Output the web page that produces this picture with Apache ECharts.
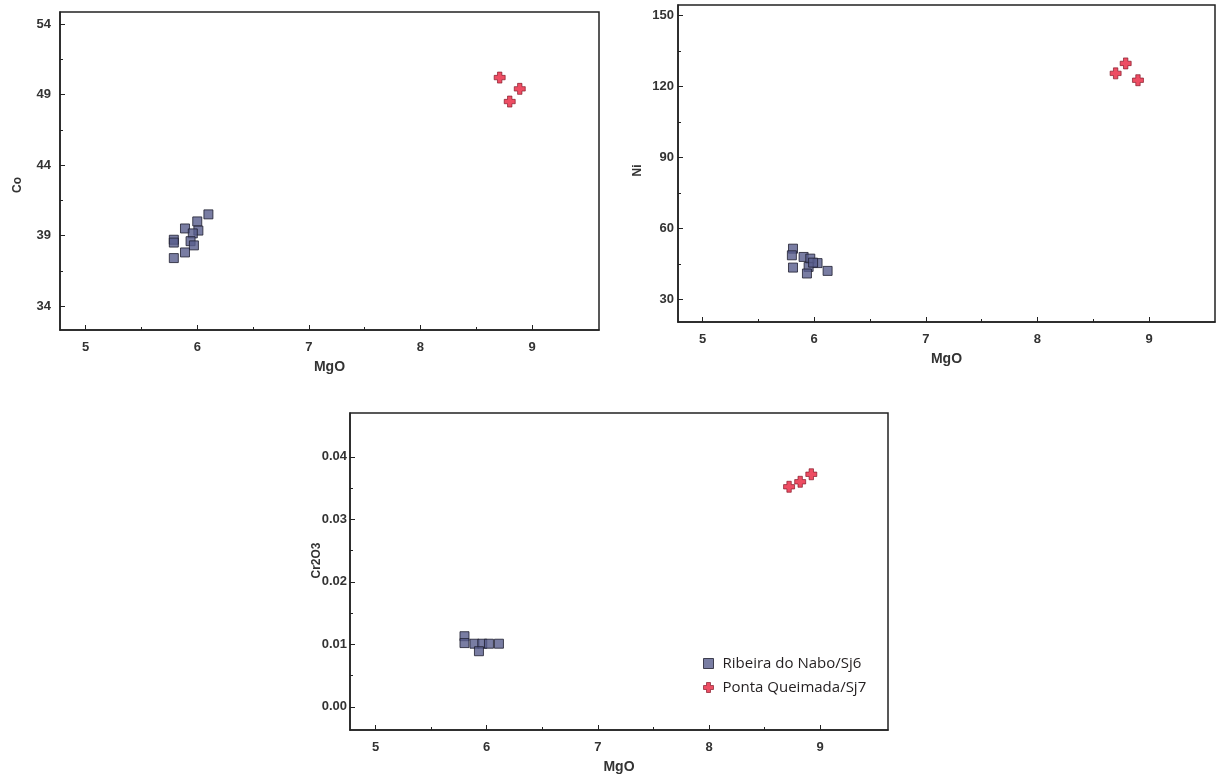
<!DOCTYPE html>
<html><head><meta charset="utf-8">
<script src="https://cdn.jsdelivr.net/npm/echarts@6/dist/echarts.min.js"></script>
<style>html,body{margin:0;padding:0;background:#fff}#c{width:1219px;height:776px}</style>
</head><body><div id="c"></div>
<script>
// ---- data ----
const seriesNames = ['Ribeira do Nabo/Sj6', 'Ponta Queimada/Sj7'];
const xTicks = [5, 6, 7, 8, 9];
const xMinorTicks = [5.5, 6.5, 7.5, 8.5];
const coTicks = [34, 39, 44, 49, 54];
const coMinorTicks = [36.5, 41.5, 46.5, 51.5];
const niTicks = [30, 60, 90, 120, 150];
const niMinorTicks = [45, 75, 105, 135];
const crTicks = [0, 0.01, 0.02, 0.03, 0.04];
const crMinorTicks = [0.005, 0.015, 0.025, 0.035];

// Co vs MgO
const coMgoBlue = [6.10, 6.00, 5.89, 6.01, 5.96, 5.79, 5.79, 5.94, 5.97, 5.89, 5.79];
const coBlue    = [40.5, 40.0, 39.5, 39.35, 39.15, 38.7, 38.5, 38.6, 38.3, 37.8, 37.4];
const coMgoRed  = [8.71, 8.89, 8.80];
const coRed     = [50.2, 49.4, 48.5];
// Ni vs MgO
const niMgoBlue = [5.81, 5.80, 5.905, 5.965, 6.03, 5.81, 5.95, 5.935, 6.12, 5.99];
const niBlue    = [51.4, 48.6, 47.9, 47.2, 45.3, 43.4, 43.7, 40.9, 42.0, 45.5];
const niMgoRed  = [8.70, 8.79, 8.90];
const niRed     = [125.5, 129.7, 122.6];
// Cr2O3 vs MgO
const crMgoBlue = [5.80, 5.80, 5.89, 5.96, 6.02, 6.11, 5.93];
const crBlue    = [0.0113, 0.0102, 0.0101, 0.0101, 0.0101, 0.0101, 0.0089];
const crMgoRed  = [8.72, 8.82, 8.92];
const crRed     = [0.0352, 0.0360, 0.0372];

// ---- styles ----
const AX = '#222';
const labelFont = { fontFamily: 'Liberation Sans, Arial, sans-serif', fontWeight: 'bold', fontSize: 13, color: '#333' };
const crossPath = 'path://M3,0H7V3H10V7H7V10H3V7H0V3H3Z';
const blueStyle = { color: '#585c8c', borderColor: '#1e1e2e', borderWidth: 1 };
const redStyle = { color: '#e8203c', borderColor: '#7a1020', borderWidth: 0.8 };

function zip(xs, ys) { return xs.map((x, i) => [x, ys[i]]); }

const grids = [
  { left: 60, top: 12, width: 539, height: 318 },
  { left: 678, top: 5, width: 537, height: 317 },
  { left: 350, top: 413, width: 538, height: 317 }
].map(g => Object.assign(g, { show: true, borderColor: AX, borderWidth: 1.5, backgroundColor: 'transparent' }));

const xRanges = [[4.77, 9.60], [4.78, 9.59], [4.77, 9.61]];
const yRanges = [[32.3, 54.85], [20.4, 154.4], [-0.0037, 0.047]];
const yMajor = [coTicks, niTicks, crTicks];
const yMinor = [coMinorTicks, niMinorTicks, crMinorTicks];
const yNames = ['Co', 'Ni', 'Cr2O3'];
const yNameGaps = [36, 34, 27];
const yNamePads = [[0, 28, 0, 0], [0, 14, 0, 0], [0, 0, 0, 22]];
const yLabelMargins = [9, 4, 3];
const yFormat = [v => String(v), v => String(v), v => v.toFixed(2)];

const xAxis = [], yAxis = [];
for (let i = 0; i < 3; i++) {
  xAxis.push({
    type: 'value', gridIndex: i, position: 'bottom', min: xRanges[i][0], max: xRanges[i][1],
    name: 'MgO', nameLocation: 'middle', nameGap: 30, nameMoveOverlap: false,
    nameTextStyle: Object.assign({}, labelFont, { fontSize: 14 }),
    axisLine: { show: true, onZero: false, lineStyle: { color: AX, width: 1.5 } },
    axisTick: { show: true, inside: true, length: 5, customValues: xTicks, lineStyle: { color: AX } },
    axisLabel: { show: true, margin: 11, customValues: xTicks, ...labelFont },
    splitLine: { show: false }
  });
  xAxis.push({
    type: 'value', gridIndex: i, position: 'bottom', min: xRanges[i][0], max: xRanges[i][1],
    axisLine: { show: false, onZero: false },
    axisTick: { show: true, inside: true, length: 3, customValues: xMinorTicks, lineStyle: { color: AX } },
    axisLabel: { show: false }, splitLine: { show: false }
  });
  yAxis.push({
    type: 'value', gridIndex: i, position: 'left', min: yRanges[i][0], max: yRanges[i][1],
    name: yNames[i], nameLocation: 'middle', nameGap: yNameGaps[i], nameMoveOverlap: false,
    nameTextStyle: Object.assign({}, labelFont, { fontSize: 12, padding: yNamePads[i] }),
    axisLine: { show: true, onZero: false, lineStyle: { color: AX, width: 1.5 } },
    axisTick: { show: true, inside: true, length: 5, customValues: yMajor[i], lineStyle: { color: AX } },
    axisLabel: { show: true, margin: yLabelMargins[i], customValues: yMajor[i], formatter: yFormat[i], ...labelFont },
    splitLine: { show: false }
  });
  yAxis.push({
    type: 'value', gridIndex: i, position: 'left', min: yRanges[i][0], max: yRanges[i][1],
    axisLine: { show: false, onZero: false },
    axisTick: { show: true, inside: true, length: 3, customValues: yMinor[i], lineStyle: { color: AX } },
    axisLabel: { show: false }, splitLine: { show: false }
  });
}

const blueSets = [zip(coMgoBlue, coBlue), zip(niMgoBlue, niBlue), zip(crMgoBlue, crBlue)];
const redSets = [zip(coMgoRed, coRed), zip(niMgoRed, niRed), zip(crMgoRed, crRed)];
const series = [];
for (let i = 0; i < 3; i++) {
  series.push({
    name: seriesNames[0], type: 'scatter', xAxisIndex: 2 * i, yAxisIndex: 2 * i,
    symbol: 'rect', symbolSize: 9, itemStyle: blueStyle, data: blueSets[i], z: 3
  });
  series.push({
    name: seriesNames[1], type: 'scatter', xAxisIndex: 2 * i, yAxisIndex: 2 * i,
    symbol: crossPath, symbolSize: 11, itemStyle: redStyle, data: redSets[i], z: 4
  });
}

const chart = echarts.init(document.getElementById('c'), null, { renderer: 'canvas' });
chart.setOption({
  animation: false,
  backgroundColor: '#fff',
  grid: grids,
  xAxis, yAxis, series,
  legend: {
    data: [
      { name: seriesNames[0], icon: 'rect', itemStyle: blueStyle },
      { name: seriesNames[1], icon: crossPath, itemStyle: redStyle }
    ],
    orient: 'vertical', left: 698, top: 651, itemWidth: 10, itemHeight: 10, itemGap: 9,
    textStyle: { fontFamily: 'Open Sans, sans-serif', fontSize: 15, color: '#231f20', padding: [0, 0, 0, 4] }
  }
});
</script></body></html>
